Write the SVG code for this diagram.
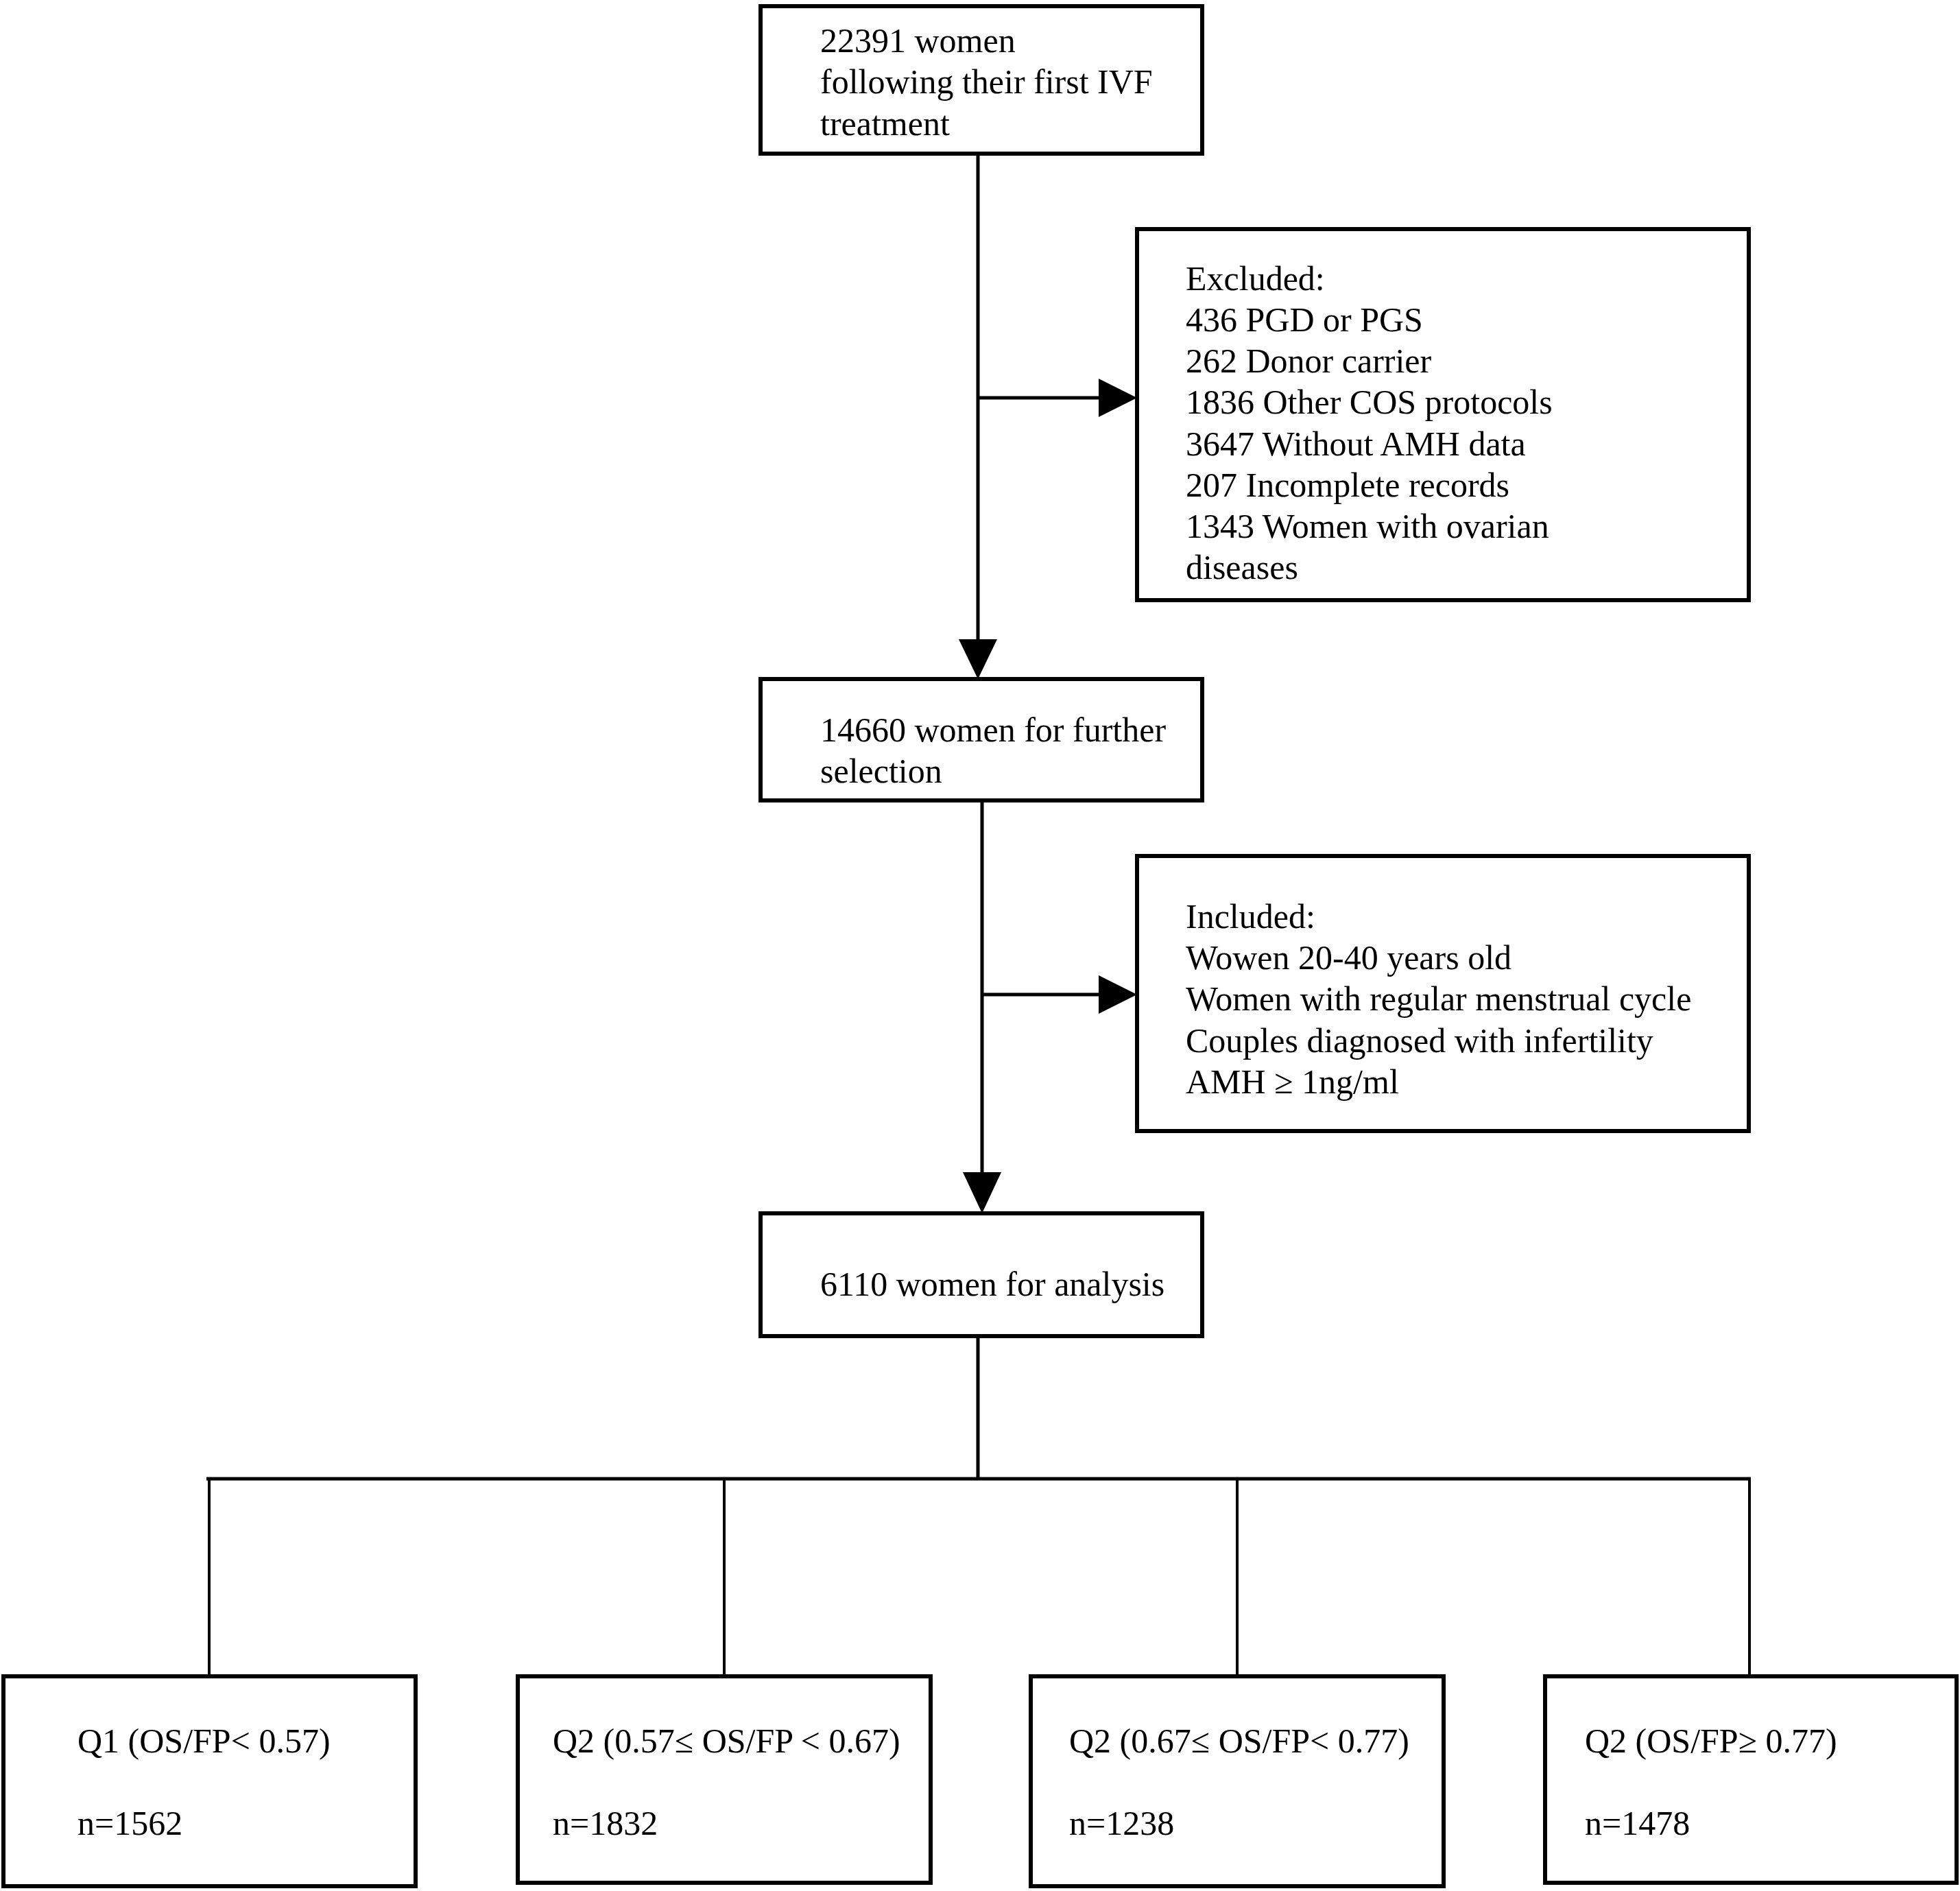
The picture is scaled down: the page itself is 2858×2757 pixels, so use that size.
<svg xmlns="http://www.w3.org/2000/svg" width="2858" height="2757" viewBox="0 0 2858 2757">
<style>
.box{fill:#fff;stroke:#000;stroke-width:6}
.ln{fill:none;stroke:#000;stroke-width:5}
.thin{fill:none;stroke:#000;stroke-width:4}
.ah{fill:#000}
text{font-family:"Liberation Serif","Times New Roman",serif;font-size:50px;fill:#000}
</style>
<rect width="2858" height="2757" fill="#fff"/>
<g id="connectors">
<line class="ln" x1="1426" y1="224" x2="1426" y2="935"/>
<polygon class="ah" points="1398,932 1454,932 1426,990"/>
<line class="ln" x1="1426" y1="580" x2="1605" y2="580"/>
<polygon class="ah" points="1602,552 1602,608 1658,580"/>
<line class="ln" x1="1432" y1="1167" x2="1432" y2="1712"/>
<polygon class="ah" points="1404,1709 1460,1709 1432,1769"/>
<line class="ln" x1="1432" y1="1450" x2="1605" y2="1450"/>
<polygon class="ah" points="1602,1422 1602,1478 1658,1450"/>
<line class="ln" x1="1426" y1="1948" x2="1426" y2="2156"/>
<line class="ln" x1="301" y1="2156" x2="2553" y2="2156"/>
<line class="thin" x1="305" y1="2156" x2="305" y2="2444"/>
<line class="thin" x1="1056" y1="2156" x2="1056" y2="2444"/>
<line class="thin" x1="1804" y1="2156" x2="1804" y2="2444"/>
<line class="thin" x1="2551" y1="2156" x2="2551" y2="2444"/>
</g>
<g id="n1">
<rect class="box" x="1109" y="9" width="644" height="215"/>
<text x="1196" y="76">22391 women</text>
<text x="1196" y="136">following their first IVF</text>
<text x="1196" y="197">treatment</text>
</g>
<g id="excluded">
<rect class="box" x="1658" y="334" width="892" height="541"/>
<text x="1729" y="423">Excluded:</text>
<text x="1729" y="483">436 PGD or PGS</text>
<text x="1729" y="543">262 Donor carrier</text>
<text x="1729" y="603">1836 Other COS protocols</text>
<text x="1729" y="664">3647 Without AMH data</text>
<text x="1729" y="724">207 Incomplete records</text>
<text x="1729" y="784">1343 Women with ovarian</text>
<text x="1729" y="844">diseases</text>
</g>
<g id="n2">
<rect class="box" x="1109" y="990" width="644" height="177"/>
<text x="1196" y="1081">14660 women for further</text>
<text x="1196" y="1141">selection</text>
</g>
<g id="included">
<rect class="box" x="1658" y="1248" width="892" height="401"/>
<text x="1729" y="1353">Included:</text>
<text x="1729" y="1413">Wowen 20-40 years old</text>
<text x="1729" y="1473">Women with regular menstrual cycle</text>
<text x="1729" y="1534">Couples diagnosed with infertility</text>
<text x="1729" y="1594">AMH ≥ 1ng/ml</text>
</g>
<g id="n3">
<rect class="box" x="1109" y="1769" width="644" height="179"/>
<text x="1196" y="1889">6110 women for analysis</text>
</g>
<g id="q1">
<rect class="box" x="5" y="2444" width="601" height="306"/>
<text x="113" y="2555">Q1 (OS/FP&lt; 0.57)</text>
<text x="113" y="2675">n=1562</text>
</g>
<g id="q2">
<rect class="box" x="755" y="2444" width="602" height="301"/>
<text x="806" y="2555">Q2 (0.57≤ OS/FP &lt; 0.67)</text>
<text x="806" y="2675">n=1832</text>
</g>
<g id="q3">
<rect class="box" x="1503" y="2444" width="602" height="306"/>
<text x="1559" y="2555">Q2 (0.67≤ OS/FP&lt; 0.77)</text>
<text x="1559" y="2675">n=1238</text>
</g>
<g id="q4">
<rect class="box" x="2253" y="2444" width="600" height="301"/>
<text x="2311" y="2555">Q2 (OS/FP≥ 0.77)</text>
<text x="2311" y="2675">n=1478</text>
</g>
</svg>
